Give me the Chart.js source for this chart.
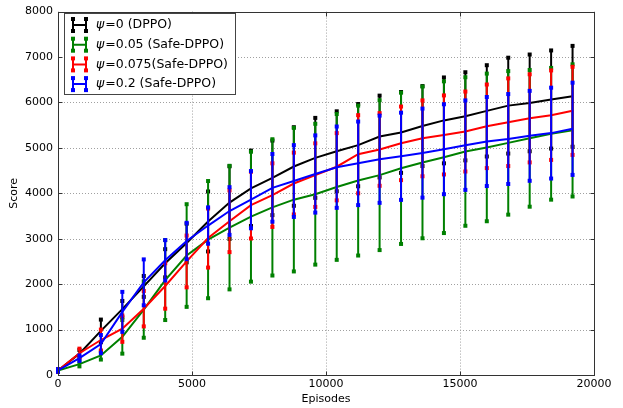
<!DOCTYPE html>
<html>
<head>
<meta charset="utf-8">
<script src="https://cdn.jsdelivr.net/npm/chart.js@4/dist/chart.umd.min.js"></script>
<style>
html, body { margin: 0; padding: 0; background: #fff; }
#wrap { width: 623px; height: 408px; }
</style>
</head>
<body>
<div id="wrap"><canvas id="chart" width="623" height="408"></canvas></div>
<script>
// episodes on the x axis
const episodes = [0, 800, 1600, 2400, 3200, 4000, 4800, 5600, 6400, 7200, 8000, 8800, 9600,
  10400, 11200, 12000, 12800, 13600, 14400, 15200, 16000, 16800, 17600, 18400, 19200];

// mean score and error (half height of bar) per run
const dppoMean = [100, 470, 970, 1450, 1950, 2460, 2905, 3380, 3795, 4110, 4340, 4590, 4780,
  4925, 5060, 5250, 5340, 5480, 5605, 5695, 5815, 5930, 5990, 6065, 6135];
const dppoErr = [30, 80, 250, 180, 230, 310, 425, 660, 800, 830, 820, 865, 880,
  880, 905, 900, 890, 880, 945, 970, 1005, 1055, 1065, 1080, 1110];

const safe05Mean = [100, 240, 430, 840, 1440, 2090, 2630, 2980, 3245, 3485, 3690, 3860, 3980,
  4140, 4280, 4400, 4550, 4680, 4795, 4920, 5010, 5110, 5210, 5310, 5385];
const safe05Err = [30, 50, 90, 370, 620, 880, 1130, 1290, 1360, 1430, 1500, 1580, 1550,
  1605, 1650, 1650, 1665, 1670, 1670, 1635, 1625, 1580, 1505, 1450, 1455];

const safe075Mean = [100, 480, 770, 1020, 1460, 1960, 2500, 3015, 3385, 3740, 3960, 4215, 4400,
  4585, 4860, 4965, 5100, 5210, 5285, 5360, 5475, 5565, 5650, 5720, 5815];
const safe075Err = [30, 100, 230, 290, 390, 500, 570, 650, 680, 735, 700, 680, 700,
  740, 860, 800, 810, 835, 870, 880, 920, 965, 970, 985, 970];

const safe2Mean = [100, 370, 680, 1390, 2040, 2525, 2950, 3290, 3610, 3860, 4120, 4270, 4425,
  4575, 4660, 4750, 4815, 4885, 4970, 5060, 5140, 5195, 5265, 5325, 5420];
const safe2Err = [30, 60, 200, 440, 505, 445, 400, 400, 525, 630, 745, 790, 850,
  895, 920, 960, 960, 980, 990, 985, 980, 990, 990, 1000, 1015];

const labels = ['ψ=0 (DPPO)', 'ψ=0.05 (Safe-DPPO)', 'ψ=0.075(Safe-DPPO)', 'ψ=0.2 (Safe-DPPO)'];
const colors = ['#000000', '#008000', '#ff0000', '#0000ff'];
const means = [dppoMean, safe05Mean, safe075Mean, safe2Mean];
const errs = [dppoErr, safe05Err, safe075Err, safe2Err];

const FONT = '"DejaVu Sans", sans-serif';

// error bars, drawn right after each line so later runs sit on top
const errorBars = {
  id: 'errorBars',
  afterDatasetDraw(chart, args) {
    const i = args.index;
    const ctx = chart.ctx;
    const xs = chart.scales.x, ys = chart.scales.y;
    ctx.save();
    ctx.strokeStyle = colors[i];
    ctx.fillStyle = colors[i];
    ctx.lineWidth = 2;
    episodes.forEach((ep, j) => {
      const px = xs.getPixelForValue(ep);
      const top = ys.getPixelForValue(means[i][j] + errs[i][j]);
      const bot = ys.getPixelForValue(means[i][j] - errs[i][j]);
      ctx.beginPath();
      ctx.moveTo(px, top);
      ctx.lineTo(px, bot);
      ctx.stroke();
      ctx.fillRect(px - 2, top - 2, 4, 4);
      ctx.fillRect(px - 2, bot - 2, 4, 4);
    });
    ctx.restore();
  }
};

// dotted grid, frame, inward ticks and legend box
const frame = {
  id: 'frame',
  beforeDatasetsDraw(chart) {
    const ctx = chart.ctx, a = chart.chartArea;
    ctx.save();
    ctx.strokeStyle = '#a0a0a0';
    ctx.lineWidth = 1;
    ctx.setLineDash([1, 2]);
    chart.scales.x.ticks.forEach(t => {
      const px = Math.round(chart.scales.x.getPixelForValue(t.value)) + 0.5;
      ctx.beginPath(); ctx.moveTo(px, a.top); ctx.lineTo(px, a.bottom); ctx.stroke();
    });
    chart.scales.y.ticks.forEach(t => {
      const py = Math.round(chart.scales.y.getPixelForValue(t.value)) + 0.5;
      ctx.beginPath(); ctx.moveTo(a.left, py); ctx.lineTo(a.right, py); ctx.stroke();
    });
    ctx.restore();
  },
  afterDatasetsDraw(chart) {
    const ctx = chart.ctx, a = chart.chartArea;
    ctx.save();
    ctx.strokeStyle = '#333';
    ctx.lineWidth = 1;
    const l = Math.round(a.left) + 0.5, r = Math.round(a.right) + 0.5;
    const t = Math.round(a.top) + 0.5, b = Math.round(a.bottom) + 0.5;
    ctx.strokeRect(l, t, r - l, b - t);
    chart.scales.x.ticks.forEach(tk => {
      const px = Math.round(chart.scales.x.getPixelForValue(tk.value)) + 0.5;
      ctx.beginPath();
      ctx.moveTo(px, b); ctx.lineTo(px, b - 4);
      ctx.moveTo(px, t); ctx.lineTo(px, t + 4);
      ctx.stroke();
    });
    chart.scales.y.ticks.forEach(tk => {
      const py = Math.round(chart.scales.y.getPixelForValue(tk.value)) + 0.5;
      ctx.beginPath();
      ctx.moveTo(l, py); ctx.lineTo(l + 4, py);
      ctx.moveTo(r, py); ctx.lineTo(r - 4, py);
      ctx.stroke();
    });
    ctx.restore();
  },
  afterDraw(chart) {
    const ctx = chart.ctx;
    ctx.save();
    const bx = 64.5, by = 13.5, bw = 171, bh = 81;
    ctx.fillStyle = '#fff';
    ctx.fillRect(bx, by, bw, bh);
    ctx.strokeStyle = '#444';
    ctx.lineWidth = 1;
    ctx.strokeRect(bx, by, bw, bh);
    labels.forEach((lab, i) => {
      const cy = 25 + i * 19.7;
      ctx.strokeStyle = colors[i];
      ctx.fillStyle = colors[i];
      ctx.lineWidth = 2;
      ctx.beginPath();
      ctx.moveTo(73, cy); ctx.lineTo(86, cy);
      ctx.moveTo(73, cy - 6.5); ctx.lineTo(73, cy + 6.5);
      ctx.moveTo(86, cy - 6.5); ctx.lineTo(86, cy + 6.5);
      ctx.stroke();
      [73, 86].forEach(x => {
        ctx.fillRect(x - 2, cy - 8, 4, 4);
        ctx.fillRect(x - 2, cy + 4, 4, 4);
      });
      ctx.fillStyle = '#000';
      ctx.textBaseline = 'middle';
      ctx.font = 'oblique 12.5px ' + FONT;
      ctx.fillText(lab[0], 96, cy);
      const w = ctx.measureText(lab[0]).width;
      ctx.font = '12.5px ' + FONT;
      ctx.fillText(lab.slice(1), 96 + w + 1, cy);
    });
    ctx.restore();
  }
};

const datasets = labels.map((lab, i) => ({
  label: lab,
  data: episodes.map((ep, j) => ({ x: ep, y: means[i][j] })),
  borderColor: colors[i],
  backgroundColor: colors[i],
  borderWidth: 2,
  pointRadius: 0,
  tension: 0,
  fill: false,
  order: 3 - i
}));

new Chart(document.getElementById('chart'), {
  type: 'line',
  data: { datasets: datasets },
  options: {
    responsive: false,
    animation: false,
    devicePixelRatio: 1,
    layout: { padding: { top: 7, right: 29, left: 0, bottom: 0 } },
    plugins: { legend: { display: false }, tooltip: { enabled: false } },
    scales: {
      x: {
        type: 'linear', min: 0, max: 20000,
        grid: { display: false, drawTicks: false }, border: { display: false },
        ticks: { stepSize: 5000, color: '#000', padding: 3, maxRotation: 0,
          font: { family: FONT, size: 11 }, callback: v => String(v) },
        title: { display: true, text: 'Episodes', color: '#000',
          font: { family: FONT, size: 11 }, padding: { top: 0, bottom: 2 } },
        afterFit(s) { s.height = 33; }
      },
      y: {
        min: 0, max: 8000,
        grid: { display: false, drawTicks: false }, border: { display: false },
        ticks: { stepSize: 1000, color: '#000', padding: 5,
          font: { family: FONT, size: 11 }, callback: v => String(v) },
        title: { display: true, text: 'Score', color: '#000',
          font: { family: FONT, size: 11 }, padding: { top: 8, bottom: 0 } },
        afterFit(s) { s.width = 58; }
      }
    }
  },
  plugins: [errorBars, frame]
});
</script>
</body>
</html>
